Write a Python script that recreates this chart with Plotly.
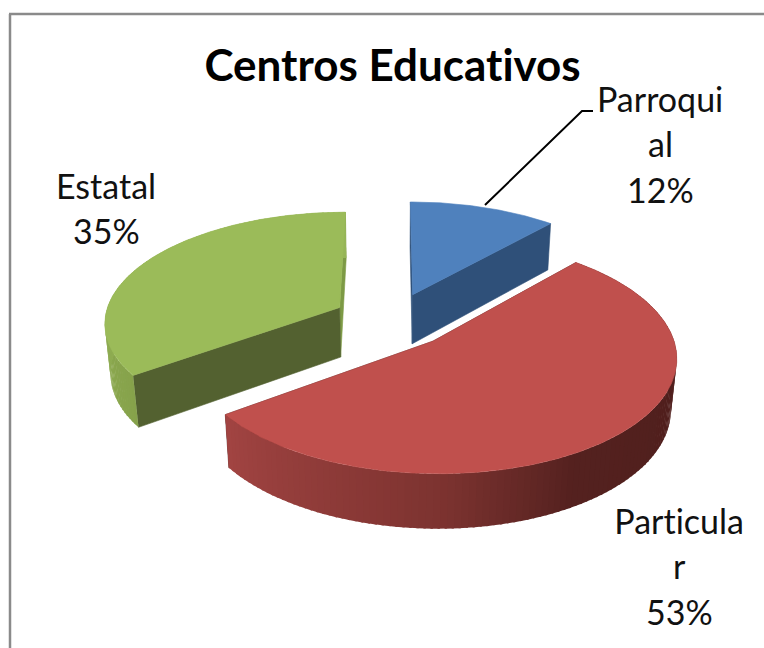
import numpy as np
import plotly.graph_objects as go

# ---- data ----
categories = ["Parroquial", "Particular", "Estatal"]
values = [11.6, 53.4, 35.0]
label_lines = [["Parroqui", "al", "12%"], ["Particula", "r", "53%"], ["Estatal", "35%"]]
chart_title = "Centros Educativos"

# ---- style ----
top_colors = ["#4F81BD", "#C0504D", "#9BBB59"]
cut_start_colors = ["#2F5079", "#4E1E1C", "#536130"]   # wall of the slice's first radial edge
cut_end_colors = ["#2F5079", "#4E1E1C", "#7D9A45"]     # wall of the slice's last radial edge
rim_stops = [
    ([0, 360], ["#2F5079", "#2F5079"]),
    ([43, 90, 150, 180, 234], ["#4E1E1C", "#4E1E1C", "#54211F", "#7D3330", "#A24442"]),
    ([234, 300, 360], ["#86A24B", "#96B557", "#96B557"]),
]
label_pos = [(660, 98), (679, 520), (106, 185)]
LINE_STEP = 45.5
draw_order = [2, 0, 1]

# ---- projection of the exploded, tilted pie ----
CX, CY, K, TILT, PERSP, EXPLODE, DEPTH, ZP = 392, 320, 235.5, 0.468, 0.125, 0.253, 51, 0.02


def project(x, y, z):
    w = 1 + PERSP * y + ZP * z
    return CX + K * x / w, CY - (K * TILT * y - DEPTH * z) / w


def hex2rgb(c):
    return [int(c[i:i + 2], 16) for i in (1, 3, 5)]


def rim_color(i, deg):
    xs, cs = rim_stops[i]
    rgb = np.array([hex2rgb(c) for c in cs], float)
    v = [np.interp(deg, xs, rgb[:, k]) for k in range(3)]
    return "rgb(%d,%d,%d)" % tuple(int(round(t)) for t in v)


fig = go.Figure()


def poly(xs, ys, color, name, lw=0.6):
    fig.add_trace(go.Scatter(
        x=list(xs), y=list(ys), mode="lines", fill="toself", fillcolor=color,
        line=dict(color=color, width=lw), hoverinfo="skip", showlegend=False, name=name))


def wall(p, q, color, name):
    xa, ya = project(*p, 0)
    xb, yb = project(*q, 0)
    xc, yc = project(*q, 1)
    xd, yd = project(*p, 1)
    poly([xa, xb, xc, xd, xa], [ya, yb, yc, yd, ya], color, name)


def rim(i, deg, rx, ry, name):
    # strips overlap their neighbour so that no seam shows between them
    step = 3
    for j in range(0, len(deg) - 1, step):
        k = min(j + step + 1, len(deg) - 1)
        xt, yt = project(rx[j:k + 1], ry[j:k + 1], 0)
        xb, yb = project(rx[j:k + 1], ry[j:k + 1], 1)
        poly(np.r_[xt, xb[::-1], xt[0]], np.r_[yt, yb[::-1], yt[0]],
             rim_color(i, (deg[j] + deg[k]) / 2), name, lw=0)


total = sum(values)
edges = np.cumsum([0] + values) / total * 360.0

for i in draw_order:
    a0, a1 = edges[i], edges[i + 1]
    mid = np.radians((a0 + a1) / 2)
    ox, oy = EXPLODE * np.sin(mid), EXPLODE * np.cos(mid)
    deg = np.linspace(a0, a1, int((a1 - a0) * 2) + 2)
    rx, ry = ox + np.sin(np.radians(deg)), oy + np.cos(np.radians(deg))

    wall((ox, oy), (rx[-1], ry[-1]), cut_end_colors[i], categories[i])
    wall((ox, oy), (rx[0], ry[0]), cut_start_colors[i], categories[i])
    if i != 0:
        rim(i, deg, rx, ry, categories[i])
    tx, ty = project(np.r_[ox, rx, ox], np.r_[oy, ry, oy], 0)
    poly(tx, ty, top_colors[i], categories[i])

# leader line of the first label
fig.add_trace(go.Scatter(x=[485, 582, 593], y=[205, 111, 111], mode="lines",
                         line=dict(color="#000000", width=2),
                         hoverinfo="skip", showlegend=False))

annotations = [dict(x=392, y=64, xref="x", yref="y", text="<b>%s</b>" % chart_title,
                    showarrow=False, font=dict(family="Lato", size=44, color="#000000"))]
for lines, (lx, ly) in zip(label_lines, label_pos):
    for n, line in enumerate(lines):
        annotations.append(dict(x=lx, y=ly + n * LINE_STEP, xref="x", yref="y", text=line,
                                showarrow=False, align="center",
                                font=dict(family="Lato", size=34, color="#111111")))

fig.update_layout(
    width=764, height=648, margin=dict(l=0, r=0, t=0, b=0),
    paper_bgcolor="#FFFFFF", plot_bgcolor="#FFFFFF", showlegend=False,
    xaxis=dict(range=[0, 764], visible=False, fixedrange=True),
    yaxis=dict(range=[648, 0], visible=False, fixedrange=True),
    annotations=annotations,
    shapes=[dict(type="line", x0=10, y0=14, x1=10, y1=648, xref="x", yref="y",
                 line=dict(color="#8A8A8A", width=2.5)),
            dict(type="line", x0=9, y0=14, x1=764, y1=14, xref="x", yref="y",
                 line=dict(color="#8A8A8A", width=2.5))],
)

fig.write_html("out.html", config=dict(displayModeBar=False, staticPlot=True),
               post_script="document.body.style.margin='0';document.documentElement.style.overflow='hidden';"
                           "var s=document.createElement('style');"
                           "s.textContent='text{font-variant-ligatures:none !important;font-feature-settings:\"liga\" 0 !important}';"
                           "document.head.appendChild(s);")
